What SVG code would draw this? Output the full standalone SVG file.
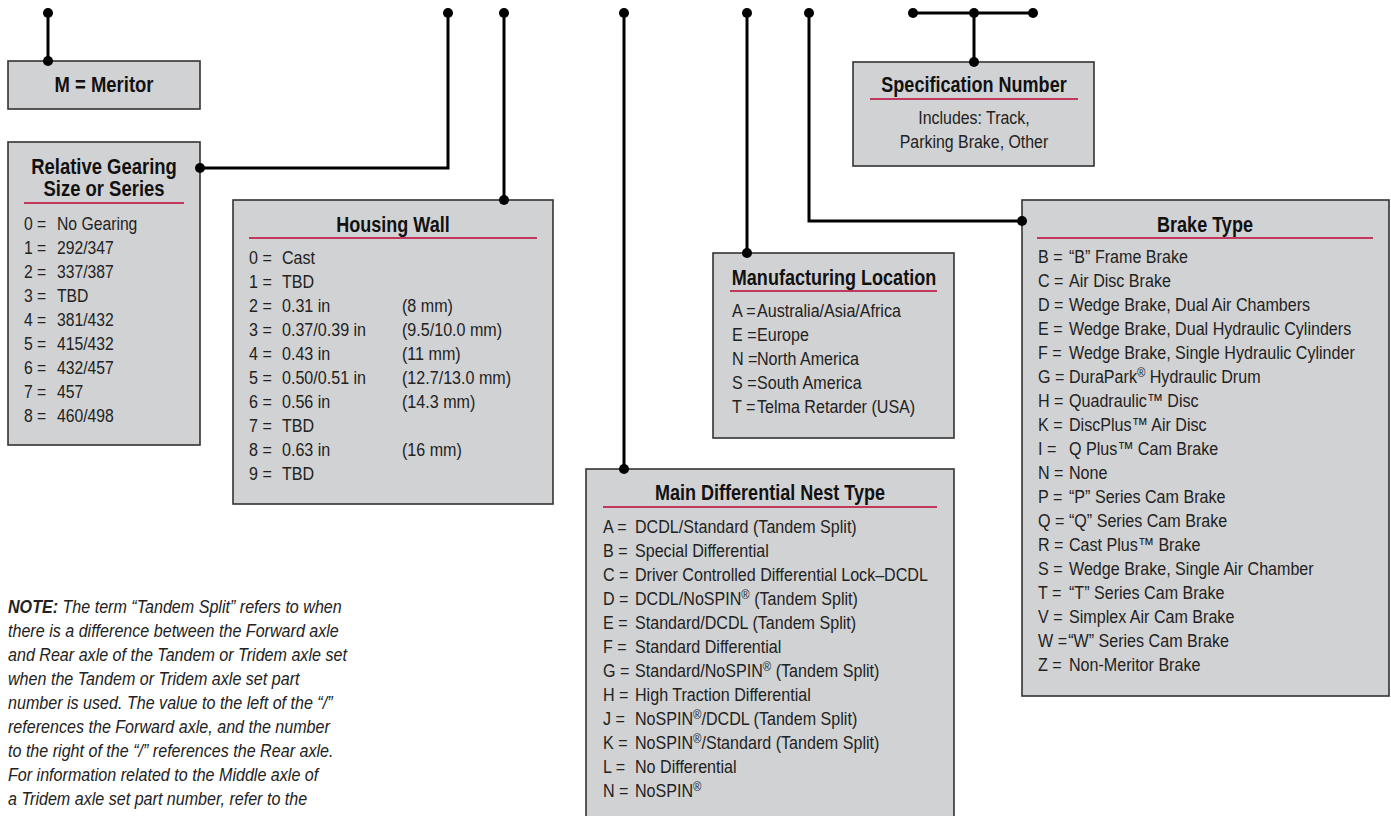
<svg xmlns="http://www.w3.org/2000/svg" width="1391" height="816" viewBox="0 0 1391 816">
<style>
.box{fill:#d1d2d4;stroke:#333;stroke-width:1.6}
.rule{stroke:#c2375c;stroke-width:2}
.t{font-family:"Liberation Sans",Arial,sans-serif;font-weight:bold;font-size:22px;fill:#111;text-anchor:middle}
.b{font-family:"Liberation Sans",Arial,sans-serif;font-size:18.5px;fill:#222}
.c{text-anchor:middle}
.n{font-family:"Liberation Sans",Arial,sans-serif;font-size:18.5px;font-style:italic;fill:#222}
.con{fill:none;stroke:#000;stroke-width:3}
.dot{fill:#000}
</style>
<rect width="1391" height="816" fill="#fff"/>

<g id="node-meritor">
<rect class="box" x="8" y="61" width="192" height="48"/>
<g transform="translate(104,0) scale(0.84,1)"><text class="t" x="0" y="92">M = Meritor</text></g>
</g>

<g id="node-gearing">
<rect class="box" x="8" y="142" width="192" height="303"/>
<g transform="translate(104,0) scale(0.84,1)">
<text class="t" x="0" y="174">Relative Gearing</text>
<text class="t" x="0" y="196">Size or Series</text>
</g>
<line class="rule" x1="24" y1="203" x2="184" y2="203"/>
<g class="b" transform="translate(24,0) scale(0.85,1)">
<text x="0" y="230">0 =</text><text x="0" y="254">1 =</text><text x="0" y="278">2 =</text>
<text x="0" y="302">3 =</text><text x="0" y="326">4 =</text><text x="0" y="350">5 =</text>
<text x="0" y="374">6 =</text><text x="0" y="398">7 =</text><text x="0" y="422">8 =</text>
</g>
<g class="b" transform="translate(57,0) scale(0.85,1)">
<text x="0" y="230">No Gearing</text>
<text x="0" y="254">292/347</text>
<text x="0" y="278">337/387</text>
<text x="0" y="302">TBD</text>
<text x="0" y="326">381/432</text>
<text x="0" y="350">415/432</text>
<text x="0" y="374">432/457</text>
<text x="0" y="398">457</text>
<text x="0" y="422">460/498</text>
</g>
</g>

<g id="node-housing">
<rect class="box" x="233" y="200" width="320" height="304"/>
<g transform="translate(393,0) scale(0.82,1)"><text class="t" x="0" y="232">Housing Wall</text></g>
<line class="rule" x1="249" y1="238" x2="537" y2="238"/>
<g class="b" transform="translate(249,0) scale(0.87,1)">
<text x="0" y="264">0 =</text><text x="0" y="288">1 =</text><text x="0" y="312">2 =</text>
<text x="0" y="336">3 =</text><text x="0" y="360">4 =</text><text x="0" y="384">5 =</text>
<text x="0" y="408">6 =</text><text x="0" y="432">7 =</text><text x="0" y="456">8 =</text>
<text x="0" y="480">9 =</text>
</g>
<g class="b" transform="translate(282,0) scale(0.87,1)">
<text x="0" y="264">Cast</text>
<text x="0" y="288">TBD</text>
<text x="0" y="312">0.31 in</text>
<text x="0" y="336">0.37/0.39 in</text>
<text x="0" y="360">0.43 in</text>
<text x="0" y="384">0.50/0.51 in</text>
<text x="0" y="408">0.56 in</text>
<text x="0" y="432">TBD</text>
<text x="0" y="456">0.63 in</text>
<text x="0" y="480">TBD</text>
</g>
<g class="b" transform="translate(402,0) scale(0.87,1)">
<text x="0" y="312">(8 mm)</text>
<text x="0" y="336">(9.5/10.0 mm)</text>
<text x="0" y="360">(11 mm)</text>
<text x="0" y="384">(12.7/13.0 mm)</text>
<text x="0" y="408">(14.3 mm)</text>
<text x="0" y="456">(16 mm)</text>
</g>
</g>

<g id="node-spec">
<rect class="box" x="853" y="62" width="241" height="104"/>
<g transform="translate(974,0) scale(0.82,1)"><text class="t" x="0" y="92">Specification Number</text></g>
<line class="rule" x1="870" y1="99" x2="1078" y2="99"/>
<g class="b c" transform="translate(974,0) scale(0.86,1)">
<text x="0" y="124">Includes: Track,</text>
<text x="0" y="148">Parking Brake, Other</text>
</g>
</g>

<g id="node-mfg">
<rect class="box" x="713" y="253" width="241" height="185"/>
<g transform="translate(834,0) scale(0.82,1)"><text class="t" x="0" y="285">Manufacturing Location</text></g>
<line class="rule" x1="730" y1="291" x2="937" y2="291"/>
<g class="b" transform="translate(732,0) scale(0.87,1)">
<text x="0" y="317">A =</text><text x="0" y="341">E =</text><text x="0" y="365">N =</text>
<text x="0" y="389">S =</text><text x="0" y="413">T =</text>
</g>
<g class="b" transform="translate(757,0) scale(0.87,1)">
<text x="0" y="317">Australia/Asia/Africa</text>
<text x="0" y="341">Europe</text>
<text x="0" y="365">North America</text>
<text x="0" y="389">South America</text>
<text x="0" y="413">Telma Retarder (USA)</text>
</g>
</g>

<g id="node-brake">
<rect class="box" x="1022" y="200" width="367" height="496"/>
<g transform="translate(1205,0) scale(0.82,1)"><text class="t" x="0" y="232">Brake Type</text></g>
<line class="rule" x1="1037" y1="238" x2="1373" y2="238"/>
<g class="b" transform="translate(1038,0) scale(0.87,1)">
<text x="0" y="263">B =</text><text x="0" y="287">C =</text><text x="0" y="311">D =</text>
<text x="0" y="335">E =</text><text x="0" y="359">F =</text><text x="0" y="383">G =</text>
<text x="0" y="407">H =</text><text x="0" y="431">K =</text><text x="0" y="455">I =</text>
<text x="0" y="479">N =</text><text x="0" y="503">P =</text><text x="0" y="527">Q =</text>
<text x="0" y="551">R =</text><text x="0" y="575">S =</text><text x="0" y="599">T =</text>
<text x="0" y="623">V =</text><text x="0" y="647">W =</text><text x="0" y="671">Z =</text>
</g>
<g class="b" transform="translate(1069,0) scale(0.87,1)">
<text x="0" y="263">“B” Frame Brake</text>
<text x="0" y="287">Air Disc Brake</text>
<text x="0" y="311">Wedge Brake, Dual Air Chambers</text>
<text x="0" y="335">Wedge Brake, Dual Hydraulic Cylinders</text>
<text x="0" y="359">Wedge Brake, Single Hydraulic Cylinder</text>
<text x="0" y="383">DuraPark<tspan font-size="13" dy="-6">®</tspan><tspan dy="6"> Hydraulic Drum</tspan></text>
<text x="0" y="407">Quadraulic™ Disc</text>
<text x="0" y="431">DiscPlus™ Air Disc</text>
<text x="0" y="455">Q Plus™ Cam Brake</text>
<text x="0" y="479">None</text>
<text x="0" y="503">“P” Series Cam Brake</text>
<text x="0" y="527">“Q” Series Cam Brake</text>
<text x="0" y="551">Cast Plus™ Brake</text>
<text x="0" y="575">Wedge Brake, Single Air Chamber</text>
<text x="0" y="599">“T” Series Cam Brake</text>
<text x="0" y="623">Simplex Air Cam Brake</text>
<text x="-1" y="647">“W” Series Cam Brake</text>
<text x="0" y="671">Non-Meritor Brake</text>
</g>
</g>

<g id="node-diff">
<rect class="box" x="586" y="469" width="368" height="360"/>
<g transform="translate(770,0) scale(0.82,1)"><text class="t" x="0" y="500">Main Differential Nest Type</text></g>
<line class="rule" x1="603" y1="507" x2="937" y2="507"/>
<g class="b" transform="translate(603,0) scale(0.87,1)">
<text x="0" y="533">A =</text><text x="0" y="557">B =</text><text x="0" y="581">C =</text>
<text x="0" y="605">D =</text><text x="0" y="629">E =</text><text x="0" y="653">F =</text>
<text x="0" y="677">G =</text><text x="0" y="701">H =</text><text x="0" y="725">J =</text>
<text x="0" y="749">K =</text><text x="0" y="773">L =</text><text x="0" y="797">N =</text>
</g>
<g class="b" transform="translate(635,0) scale(0.87,1)">
<text x="0" y="533">DCDL/Standard (Tandem Split)</text>
<text x="0" y="557">Special Differential</text>
<text x="0" y="581">Driver Controlled Differential Lock–DCDL</text>
<text x="0" y="605">DCDL/NoSPIN<tspan font-size="13" dy="-6">®</tspan><tspan dy="6"> (Tandem Split)</tspan></text>
<text x="0" y="629">Standard/DCDL (Tandem Split)</text>
<text x="0" y="653">Standard Differential</text>
<text x="0" y="677">Standard/NoSPIN<tspan font-size="13" dy="-6">®</tspan><tspan dy="6"> (Tandem Split)</tspan></text>
<text x="0" y="701">High Traction Differential</text>
<text x="0" y="725">NoSPIN<tspan font-size="13" dy="-6">®</tspan><tspan dy="6">/DCDL (Tandem Split)</tspan></text>
<text x="0" y="749">NoSPIN<tspan font-size="13" dy="-6">®</tspan><tspan dy="6">/Standard (Tandem Split)</tspan></text>
<text x="0" y="773">No Differential</text>
<text x="0" y="797">NoSPIN<tspan font-size="13" dy="-6">®</tspan></text>
</g>
</g>

<g id="note" class="n" transform="translate(8,0) scale(0.87,1)">
<text x="0" y="613"><tspan font-weight="bold">NOTE:</tspan> The term “Tandem Split” refers to when</text>
<text x="0" y="637">there is a difference between the Forward axle</text>
<text x="0" y="661">and Rear axle of the Tandem or Tridem axle set</text>
<text x="0" y="685">when the Tandem or Tridem axle set part</text>
<text x="0" y="709">number is used. The value to the left of the “/”</text>
<text x="0" y="733">references the Forward axle, and the number</text>
<text x="0" y="757">to the right of the “/” references the Rear axle.</text>
<text x="0" y="781">For information related to the Middle axle of</text>
<text x="0" y="805">a Tridem axle set part number, refer to the</text>
<text x="0" y="829">Bill of Materials.</text>
</g>

<g id="connectors">
<path class="con" d="M48 13V61"/>
<path class="con" d="M448 13V168H200"/>
<path class="con" d="M504 13V200"/>
<path class="con" d="M624 13V469"/>
<path class="con" d="M747 13V253"/>
<path class="con" d="M809 13V221H1022"/>
<path class="con" d="M913 13H1033M974 13V62"/>
<g class="dot">
<circle cx="48" cy="13" r="5"/><circle cx="48" cy="61" r="5"/>
<circle cx="448" cy="13" r="5"/><circle cx="200" cy="168" r="5"/>
<circle cx="504" cy="13" r="5"/><circle cx="504" cy="200" r="5"/>
<circle cx="624" cy="13" r="5"/><circle cx="624" cy="469" r="5"/>
<circle cx="747" cy="13" r="5"/><circle cx="747" cy="253" r="5"/>
<circle cx="809" cy="13" r="5"/><circle cx="1022" cy="221" r="5"/>
<circle cx="913" cy="13" r="5"/><circle cx="974" cy="13" r="5"/><circle cx="1033" cy="13" r="5"/><circle cx="974" cy="62" r="5"/>
</g>
</g>
</svg>
